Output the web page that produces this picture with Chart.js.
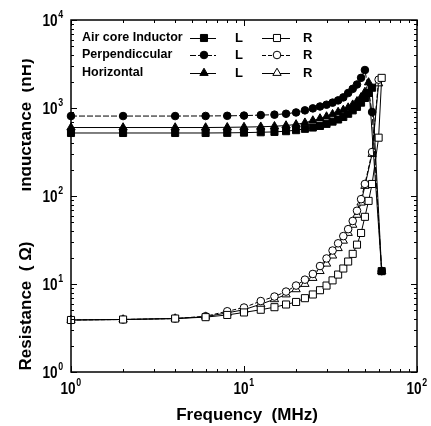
<!DOCTYPE html>
<html>
<head>
<meta charset="utf-8">
<script src="https://cdn.jsdelivr.net/npm/chart.js@4.4.0/dist/chart.umd.min.js"></script>
<style>
  body { margin: 0; background: #fff; }
  #wrap { width: 431px; height: 426px; }
</style>
</head>
<body>
<div id="wrap"><canvas id="chart" width="431" height="426"></canvas></div>
<script>
// Frequency points (MHz) shared by all series; null = no point at that frequency
const freqMHz = [1, 2, 4, 6, 8, 10, 12.5, 15, 17.5, 20, 22.5, 25, 27.5, 30, 32.5, 35, 37.5, 40, 42.5, 45, 47.5, 50, 52.5, 55, 57.5, 60, 62.5];

// Inductance (nH)
const airCoreL = [520, 520, 520, 520, 522, 525, 530, 535, 545, 560, 580, 600, 625, 660, 700, 740, 790, 860, 940, 1030, 1150, 1300, 1480, 1700, null, null, 14];
const perpL = [810, 810, 810, 812, 815, 820, 830, 840, 860, 890, 940, 990, 1040, 1090, 1150, 1220, 1320, 1480, 1650, 1850, 2200, 2700, null, 900, null, null, 14];
const horizL = [600, 600, 600, 600, 603, 607, 612, 620, 632, 650, 680, 720, 760, 800, 850, 900, 950, 1010, 1090, 1190, 1320, 1520, 1950, null, null, null, 14];

// Resistance (ohm)
const airCoreR = [3.9, 3.95, 4.05, 4.2, 4.45, 4.75, 5.1, 5.45, 5.85, 6.25, 6.9, 7.6, 8.5, 9.6, 11, 12.8, 15, 18, 22, 28, 38, 58, 88, 137, null, 460, 2200];
const perpR = [3.9, 3.95, 4.05, 4.3, 4.9, 5.4, 6.4, 7.2, 8.2, 9.6, 11.2, 13, 16, 19.5, 24, 29, 35, 42, 52, 68, 92, 137, null, 316, null, 2100, null];
const horizR = [3.9, 3.95, 4.05, 4.25, 4.7, 5.1, 5.9, 6.7, 7.6, 8.7, 10, 11.7, 14, 17, 21, 25.5, 31, 38, 47, 61, 84, 130, null, 300, null, 1900, null];

const legendNames = ['Air core Inductor', 'Perpendiccular', 'Horizontal'];
const xTickExp = [0, 1, 2];
const yTickExp = [0, 1, 2, 3, 4];

const FONT = "'Liberation Sans', Arial, sans-serif";

function toPoints(vals) {
    return freqMHz.map((f, i) => ({ x: f, y: vals[i] })).filter(p => p.y !== null);
}

// style per series: shape, filled, dash
const seriesStyle = [
    { shape: 'rect', r: 5, filled: true, dash: [] },
    { shape: 'circle', r: 3.8, filled: true, dash: [6, 2] },
    { shape: 'triangle', r: 4.8, filled: true, dash: [] },
    { shape: 'rect', r: 5, filled: false, dash: [] },
    { shape: 'circle', r: 3.8, filled: false, dash: [4, 2] },
    { shape: 'triangle', r: 4.8, filled: false, dash: [] }
];
const seriesData = [airCoreL, perpL, horizL, airCoreR, perpR, horizR];
const seriesLabel = ['Air core L', 'Perpendiccular L', 'Horizontal L', 'Air core R', 'Perpendiccular R', 'Horizontal R'];

const datasets = seriesData.map((vals, i) => {
    const s = seriesStyle[i];
    return {
        label: seriesLabel[i],
        data: toPoints(vals),
        showLine: true,
        clip: false,
        borderColor: '#000',
        borderWidth: 1,
        borderDash: s.dash,
        pointStyle: s.shape,
        pointRadius: s.r,
        pointBorderWidth: 1,
        pointBorderColor: '#000',
        pointBackgroundColor: s.filled ? '#000' : '#fff'
    };
});

function drawMarker(ctx, shape, filled, r, x, y) {
    ctx.save();
    ctx.setLineDash([]);
    ctx.lineWidth = 1;
    ctx.strokeStyle = '#000';
    ctx.fillStyle = filled ? '#000' : '#fff';
    ctx.beginPath();
    if (shape === 'rect') {
        const s = Math.SQRT1_2 * r;
        ctx.rect(x - s, y - s, 2 * s, 2 * s);
    } else if (shape === 'circle') {
        ctx.arc(x, y, r, 0, Math.PI * 2);
    } else {
        const a = -Math.PI / 2;
        for (let k = 0; k < 3; k++) {
            const t = a + k * 2 * Math.PI / 3;
            const px = x + Math.cos(t) * r, py = y + Math.sin(t) * r;
            if (k === 0) ctx.moveTo(px, py); else ctx.lineTo(px, py);
        }
        ctx.closePath();
    }
    ctx.fill();
    ctx.stroke();
    ctx.restore();
}

// "10" with a raised exponent, squeezed a bit like the scan
function drawPow(ctx, cx, cy, exp) {
    ctx.save();
    ctx.fillStyle = '#000';
    ctx.textBaseline = 'middle';
    ctx.textAlign = 'center';
    ctx.translate(cx, cy);
    ctx.scale(0.8, 1);
    ctx.font = 'bold 17px ' + FONT;
    ctx.fillText('10', 0, 0);
    const w = ctx.measureText('10').width;
    ctx.font = 'bold 11px ' + FONT;
    ctx.textAlign = 'left';
    ctx.fillText(String(exp), w / 2 + 1, -6);
    ctx.restore();
}

const framePlugin = {
    id: 'frame',
    afterDraw(chart) {
        const ctx = chart.ctx;
        const a = chart.chartArea;
        const xs = chart.scales.x, ys = chart.scales.y;

        ctx.save();
        ctx.strokeStyle = '#000';
        ctx.lineWidth = 1.5;
        ctx.strokeRect(a.left, a.top, a.right - a.left, a.bottom - a.top);

        // inward ticks on all four sides
        ctx.lineWidth = 1;
        ctx.beginPath();
        for (let d = 1; d < 100; d *= 10) {
            for (let m = 1; m <= 10; m++) {
                const px = Math.round(xs.getPixelForValue(m * d)) + 0.5;
                const len = (m === 1 || m === 10) ? 6 : 3;
                ctx.moveTo(px, a.bottom); ctx.lineTo(px, a.bottom - len);
                ctx.moveTo(px, a.top); ctx.lineTo(px, a.top + len);
            }
        }
        for (let d = 1; d < 10000; d *= 10) {
            for (let m = 1; m <= 10; m++) {
                const py = Math.round(ys.getPixelForValue(m * d)) + 0.5;
                const len = (m === 1 || m === 10) ? 6 : 3;
                ctx.moveTo(a.left, py); ctx.lineTo(a.left + len, py);
                ctx.moveTo(a.right, py); ctx.lineTo(a.right - len, py);
            }
        }
        ctx.stroke();

        // tick labels
        xTickExp.forEach(e => drawPow(ctx, xs.getPixelForValue(Math.pow(10, e)) - 3, 389, e));
        yTickExp.forEach(e => drawPow(ctx, 50, ys.getPixelForValue(Math.pow(10, e)) + 1, e));

        // axis titles
        ctx.fillStyle = '#000';
        ctx.font = 'bold 17px ' + FONT;
        ctx.textAlign = 'center';
        ctx.textBaseline = 'alphabetic';
        ctx.fillText('Frequency  (MHz)', 247, 420);

        ctx.save();
        ctx.translate(31, 306);
        ctx.rotate(-Math.PI / 2);
        ctx.fillText('Resistance  ( \u03A9)', 0, 0);
        ctx.restore();

        ctx.save();
        ctx.beginPath();
        ctx.rect(22, 0, 60, 240);
        ctx.clip();
        ctx.translate(31, 125);
        ctx.rotate(-Math.PI / 2);
        ctx.fillText('Inductance  (nH)', 0, 0);
        ctx.restore();

        // legend
        const rowsY = [38, 55, 73];
        ctx.font = 'bold 12.5px ' + FONT;
        ctx.textAlign = 'left';
        ctx.textBaseline = 'middle';
        legendNames.forEach((name, i) => {
            const y = rowsY[i];
            ctx.fillStyle = '#000';
            ctx.fillText(name, 82, y);
            const sL = seriesStyle[i], sR = seriesStyle[i + 3];
            ctx.lineWidth = 1;
            ctx.setLineDash(sL.dash);
            ctx.beginPath(); ctx.moveTo(190, y + 0.5); ctx.lineTo(216, y + 0.5); ctx.stroke();
            drawMarker(ctx, sL.shape, true, sL.r, 204, y);
            ctx.setLineDash(sR.dash);
            ctx.beginPath(); ctx.moveTo(262, y + 0.5); ctx.lineTo(290, y + 0.5); ctx.stroke();
            drawMarker(ctx, sR.shape, false, sR.r, 277, y);
            ctx.setLineDash([]);
            ctx.fillStyle = '#000';
            ctx.font = 'bold 13px ' + FONT;
            ctx.fillText('L', 235, y);
            ctx.fillText('R', 303, y);
            ctx.font = 'bold 12.5px ' + FONT;
        });
        ctx.restore();
    }
};

new Chart(document.getElementById('chart'), {
    type: 'scatter',
    data: { datasets },
    options: {
        responsive: false,
        animation: false,
        devicePixelRatio: 1,
        layout: { padding: { left: 71, top: 20, right: 14, bottom: 54 } },
        elements: { line: { tension: 0 } },
        plugins: { legend: { display: false }, tooltip: { enabled: false } },
        scales: {
            x: { type: 'logarithmic', min: 1, max: 100, display: false },
            y: { type: 'logarithmic', min: 1, max: 10000, display: false }
        }
    },
    plugins: [framePlugin]
});
</script>
</body>
</html>
